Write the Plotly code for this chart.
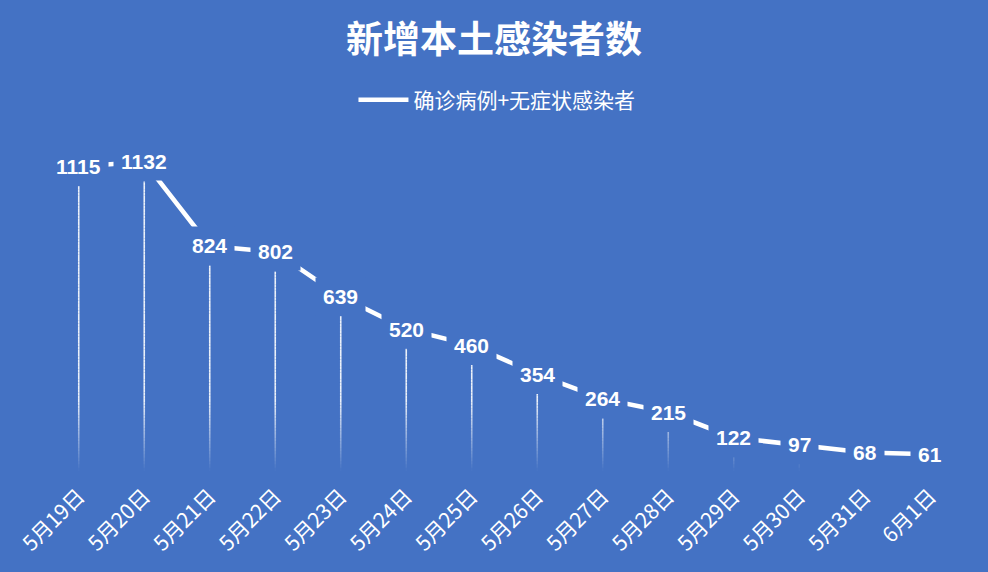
import plotly.graph_objects as go

dates = ["5月19日", "5月20日", "5月21日", "5月22日", "5月23日", "5月24日", "5月25日",
         "5月26日", "5月27日", "5月28日", "5月29日", "5月30日", "5月31日", "6月1日"]
cases = [1115, 1132, 824, 802, 639, 520, 460, 354, 264, 215, 122, 97, 68, 61]

series_name = "确诊病例+无症状感染者"
title = "新增本土感染者数"

bg = "#4472C4"
y_max = 1300
stem_gap = 72      # stem starts this far (data units) below the point
step = 12          # fade segment length

fig = go.Figure()

fig.add_trace(go.Scatter(
    x=list(range(len(dates))), y=cases, mode="lines", name=series_name,
    line=dict(color="white", width=4.5), hoverinfo="skip",
))

# fading drop lines from each point to the axis
shapes = []
for i, v in enumerate(cases):
    top = v - stem_gap
    y0 = 0
    while y0 < top:
        y1 = min(y0 + step, top)
        mid = (y0 + y1) / 2
        alpha = max(0.0, min(1.0, mid / 260)) * 0.9
        shapes.append(dict(type="line", xref="x", yref="y", x0=i, x1=i, y0=y0, y1=y1,
                           line=dict(color="rgba(255,255,255,%.3f)" % alpha, width=1.6),
                           layer="below"))
        y0 = y1

annotations = []
for i, v in enumerate(cases):
    annotations.append(dict(
        x=i, y=v, xref="x", yref="y", text=str(v), showarrow=False,
        bgcolor=bg, borderpad=7,
        font=dict(family="Liberation Sans, Arial", size=21, color="white", weight="bold"),
    ))

fig.update_layout(
    width=988, height=572,
    paper_bgcolor=bg, plot_bgcolor=bg,
    margin=dict(l=46, r=25, t=116, b=101, autoexpand=False),
    title=dict(text="<b>" + title + "</b>", x=0.5, xref="container", y=0.93, yanchor="middle",
               font=dict(family="Noto Sans CJK SC", size=37, color="white")),
    showlegend=True,
    legend=dict(orientation="h", x=0.503, xref="container", xanchor="center",
                y=0.825, yref="container", yanchor="middle", itemwidth=50,
                font=dict(family="Noto Sans CJK SC", size=21, color="white"),
                bgcolor="rgba(0,0,0,0)"),
    xaxis=dict(range=[-0.5, len(dates) - 0.5], tickmode="array",
               tickvals=list(range(len(dates))), ticktext=dates, tickangle=-45,
               showgrid=False, zeroline=False, showline=False, ticks="",
               automargin=False, ticklabelstandoff=8,
               tickfont=dict(family="Noto Sans CJK SC", size=21, color="white")),
    yaxis=dict(range=[0, y_max], visible=False, showgrid=False, zeroline=False,
               automargin=False),
    shapes=shapes,
    annotations=annotations,
)

fig.write_html("out.html", config={"displayModeBar": False},
               post_script="document.body.style.margin='0';document.body.style.overflow='hidden';")
